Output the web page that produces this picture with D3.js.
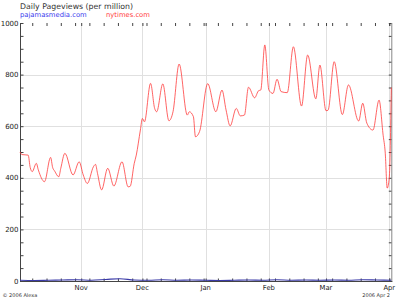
<!DOCTYPE html>
<html><head><meta charset="utf-8">
<script src="https://cdn.jsdelivr.net/npm/d3@7"></script>
<style>html,body{margin:0;padding:0;background:#fff;}svg{display:block;}</style>
</head><body>
<svg id="c" width="400" height="300"></svg>
<script>
// ---- data ----
const title = "Daily Pageviews (per million)";
const seriesNames = ["pajamasmedia.com", "nytimes.com"];
const yTicks = [0, 200, 400, 600, 800, 1000];
const monthLabels = ["Nov", "Dec", "Jan", "Feb", "Mar", "Apr"];
const monthDates = ["2005-11-01", "2005-12-01", "2006-01-01", "2006-02-01", "2006-03-01", "2006-04-01"];
const domainDates = ["2005-10-02", "2006-04-02"];

const nytDates = ["2005-10-02","2005-10-03","2005-10-06","2005-10-07","2005-10-08","2005-10-10","2005-10-11","2005-10-14","2005-10-17","2005-10-18","2005-10-19","2005-10-21","2005-10-22","2005-10-24","2005-10-28","2005-10-31","2005-11-02","2005-11-04","2005-11-07","2005-11-08","2005-11-09","2005-11-11","2005-11-14","2005-11-17","2005-11-21","2005-11-24","2005-11-25","2005-11-27","2005-11-28","2005-11-30","2005-12-01","2005-12-02","2005-12-05","2005-12-07","2005-12-08","2005-12-11","2005-12-14","2005-12-16","2005-12-19","2005-12-23","2005-12-24","2005-12-26","2005-12-27","2005-12-29","2006-01-02","2006-01-06","2006-01-09","2006-01-11","2006-01-13","2006-01-16","2006-01-18","2006-01-20","2006-01-22","2006-01-25","2006-01-27","2006-01-28","2006-01-30","2006-02-01","2006-02-03","2006-02-05","2006-02-07","2006-02-10","2006-02-13","2006-02-17","2006-02-20","2006-02-24","2006-02-26","2006-03-01","2006-03-02","2006-03-05","2006-03-09","2006-03-12","2006-03-17","2006-03-19","2006-03-21","2006-03-24","2006-03-27","2006-03-29","2006-03-30","2006-03-31","2006-04-01","2006-04-02"];
const nytValues = [500,490,488,440,424,456,430,385,479,440,426,404,437,495,411,462,411,378,443,452,417,353,437,368,462,365,367,456,488,585,630,617,766,669,656,764,621,656,841,643,656,637,559,579,765,656,740,663,601,669,640,643,751,710,738,740,915,740,727,782,734,730,908,678,876,706,837,660,662,850,645,760,620,689,612,585,701,565,500,360,400,750];

const pajDates = ["2005-10-02","2005-10-09","2005-10-16","2005-10-23","2005-10-30","2005-11-06","2005-11-13","2005-11-20","2005-11-27","2005-12-04","2005-12-11","2005-12-18","2005-12-25","2006-01-01","2006-01-08","2006-01-15","2006-01-22","2006-01-29","2006-02-05","2006-02-12","2006-02-19","2006-02-26","2006-03-05","2006-03-12","2006-03-19","2006-03-26","2006-04-02"];
const pajValues = [3,2,3,4,5,3,6,9,4,3,5,3,4,3,2,3,4,3,5,3,4,3,4,3,5,4,3];

// ---- layout ----
const svg = d3.select("#c");
const pLeft = 20, pRight = 391.3, pTop = 23, pBottom = 281;
const parse = d3.utcParse("%Y-%m-%d");
const x = d3.scaleUtc().domain(domainDates.map(parse)).range([pLeft, pRight]);
const y = d3.scaleLinear().domain([0, 1000]).range([pBottom, pTop]);
const font = "'DejaVu Sans', Verdana, sans-serif";

// gridlines
svg.append("g").selectAll("line").data(yTicks.filter(v => v > 0 && v < 1000)).join("line")
  .attr("x1", pLeft).attr("x2", pRight).attr("y1", d => Math.round(y(d)) + 0.5).attr("y2", d => Math.round(y(d)) + 0.5)
  .attr("stroke", "#e0e0e0").attr("stroke-width", 1);
svg.append("g").selectAll("line").data(monthDates.map(parse)).join("line")
  .attr("x1", d => Math.round(x(d)) + 0.5).attr("x2", d => Math.round(x(d)) + 0.5)
  .attr("y1", pTop).attr("y2", pBottom).attr("stroke", "#e0e0e0").attr("stroke-width", 1);

// axes with inside ticks
const weekTicks = d3.utcSaturday.range(parse(domainDates[0]), parse(domainDates[1]));
const minorY = d3.range(0, 1001, 50);
const axisColor = "#444";
function styleAxis(g) {
  g.select(".domain").remove();
  g.selectAll(".tick line").attr("stroke", axisColor);
  g.selectAll("text").remove();
}
const xTickVals = weekTicks.concat(monthDates.map(parse));
svg.append("g").attr("transform", `translate(0,${pBottom + 0.5})`)
  .call(d3.axisTop(x).tickValues(xTickVals).tickSize(3)).call(styleAxis);
svg.append("g").attr("transform", `translate(0,${pTop})`)
  .call(d3.axisBottom(x).tickValues(xTickVals).tickSize(3)).call(styleAxis);
svg.append("g").attr("transform", `translate(${pLeft + 0.5},0)`)
  .call(d3.axisRight(y).tickValues(minorY).tickSize(3)).call(styleAxis);
svg.append("g").attr("transform", `translate(${pRight + 0.5},0)`)
  .call(d3.axisLeft(y).tickValues(minorY).tickSize(3)).call(styleAxis);

// frame lines
svg.append("line").attr("x1", pLeft + 0.5).attr("x2", pLeft + 0.5).attr("y1", pTop).attr("y2", pBottom + 1).attr("stroke", axisColor);
svg.append("line").attr("x1", pRight + 0.5).attr("x2", pRight + 0.5).attr("y1", pTop).attr("y2", pBottom + 1).attr("stroke", "#888");
svg.append("line").attr("x1", pLeft).attr("x2", pRight + 1).attr("y1", pBottom + 0.5).attr("y2", pBottom + 0.5).attr("stroke", axisColor);

// y labels
svg.append("g").selectAll("text").data(yTicks).join("text")
  .attr("x", 18.5).attr("y", d => y(d) + 2.6).attr("text-anchor", "end")
  .attr("font-family", font).attr("font-size", 7).attr("fill", "#222").text(d => d);
// x labels
svg.append("g").selectAll("text").data(monthLabels).join("text")
  .attr("x", (d, i) => x(parse(monthDates[i]))).attr("y", 289.5).attr("text-anchor", "middle")
  .attr("font-family", font).attr("font-size", 6.8).attr("fill", "#222").text(d => d);

// series
const line = d3.line().x(d => x(d[0])).y(d => y(d[1])).curve(d3.curveMonotoneX);
const nyt = nytDates.map((d, i) => [parse(d), nytValues[i]]);
const paj = pajDates.map((d, i) => [parse(d), pajValues[i]]);
svg.append("path").datum(paj).attr("d", line).attr("fill", "none").attr("stroke", "#3a3aa8").attr("stroke-width", 1.1);
svg.append("path").datum(nyt).attr("d", line).attr("fill", "none").attr("stroke", "#ff3030").attr("stroke-width", 0.75);

// title & legend
svg.append("text").attr("x", 20).attr("y", 8.6).attr("font-family", font).attr("font-size", 7.8)
  .attr("fill", "#333").text(title);
svg.append("text").attr("x", 20).attr("y", 17).attr("font-family", font).attr("font-size", 6.8)
  .attr("fill", "#3a3aee").text(seriesNames[0]);
svg.append("text").attr("x", 106).attr("y", 17).attr("font-family", font).attr("font-size", 6.8)
  .attr("fill", "#ff3a3a").text(seriesNames[1]);

// footer
svg.append("text").attr("x", 2.5).attr("y", 296.5).attr("font-family", font).attr("font-size", 5)
  .attr("fill", "#333").text("\u00a9 2006 Alexa");
svg.append("text").attr("x", 390).attr("y", 296.5).attr("text-anchor", "end").attr("font-family", font).attr("font-size", 5)
  .attr("fill", "#333").text("2006 Apr 2");
</script>
</body></html>
